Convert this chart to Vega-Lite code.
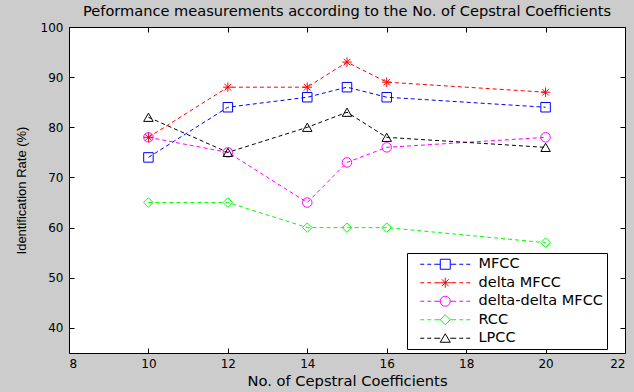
{
  "$schema": "https://vega.github.io/schema/vega-lite/v6.json",
  "width": 556,
  "height": 326,
  "autosize": "none",
  "padding": {"left": 69, "top": 27, "right": 9, "bottom": 39},
  "background": "#cccccc",
  "title": {"text": "Peformance measurements according to the No. of Cepstral Coefficients", "font": "DejaVu Sans", "fontSize": 14.6, "fontWeight": "normal", "color": "black", "anchor": "middle", "baseline": "alphabetic", "offset": -10},
  "config": {
    "view": {"stroke": "black", "strokeWidth": 1, "fill": "white"},
    "axis": {"grid": false, "domain": false, "tickColor": "black", "tickWidth": 1, "labelColor": "black", "titleColor": "black", "labelFont": "DejaVu Sans", "labelFontSize": 12, "titleFont": "DejaVu Sans", "titleFontSize": 14.7, "titleFontWeight": "normal"}
  },
  "data": {"values": [
    {"x": 10, "y": 74, "series": "MFCC"},
    {"x": 12, "y": 84, "series": "MFCC"},
    {"x": 14, "y": 86, "series": "MFCC"},
    {"x": 15, "y": 88, "series": "MFCC"},
    {"x": 16, "y": 86, "series": "MFCC"},
    {"x": 20, "y": 84, "series": "MFCC"},
    {"x": 10, "y": 78, "series": "delta MFCC"},
    {"x": 12, "y": 88, "series": "delta MFCC"},
    {"x": 14, "y": 88, "series": "delta MFCC"},
    {"x": 15, "y": 93, "series": "delta MFCC"},
    {"x": 16, "y": 89, "series": "delta MFCC"},
    {"x": 20, "y": 87, "series": "delta MFCC"},
    {"x": 10, "y": 78, "series": "delta-delta MFCC"},
    {"x": 12, "y": 75, "series": "delta-delta MFCC"},
    {"x": 14, "y": 65, "series": "delta-delta MFCC"},
    {"x": 15, "y": 73, "series": "delta-delta MFCC"},
    {"x": 16, "y": 76, "series": "delta-delta MFCC"},
    {"x": 20, "y": 78, "series": "delta-delta MFCC"},
    {"x": 10, "y": 65, "series": "RCC"},
    {"x": 12, "y": 65, "series": "RCC"},
    {"x": 14, "y": 60, "series": "RCC"},
    {"x": 15, "y": 60, "series": "RCC"},
    {"x": 16, "y": 60, "series": "RCC"},
    {"x": 20, "y": 57, "series": "RCC"},
    {"x": 10, "y": 82, "series": "LPCC"},
    {"x": 12, "y": 75, "series": "LPCC"},
    {"x": 14, "y": 80, "series": "LPCC"},
    {"x": 15, "y": 83, "series": "LPCC"},
    {"x": 16, "y": 78, "series": "LPCC"},
    {"x": 20, "y": 76, "series": "LPCC"}
  ]},
  "resolve": {"axis": {"x": "independent", "y": "independent"}, "scale": {"shape": "independent", "color": "independent"}},
  "layer": [
    {
      "mark": {"type": "line", "strokeDash": [4, 3], "strokeWidth": 1},
      "encoding": {
        "x": {"field": "x", "type": "quantitative", "scale": {"domain": [8, 22], "nice": false, "zero": false},
              "axis": {"orient": "bottom", "values": [8, 10, 12, 14, 16, 18, 20, 22], "tickSize": -5, "labelPadding": 10, "title": "No. of Cepstral Coefficients", "titlePadding": 4}},
        "y": {"field": "y", "type": "quantitative", "scale": {"domain": [35, 100], "nice": false, "zero": false},
              "axis": {"orient": "left", "values": [40, 50, 60, 70, 80, 90, 100], "tickSize": -5, "labelPadding": 11, "title": "Identification Rate (%)", "titleFont": "Liberation Sans", "titleFontSize": 13, "titlePadding": 12}},
        "color": {"field": "series", "type": "nominal",
                  "scale": {"domain": ["MFCC", "delta MFCC", "delta-delta MFCC", "RCC", "LPCC"], "range": ["#0000ff", "#ff0000", "#ff00ff", "#00ff00", "#000000"]},
                  "legend": null}
      }
    },
    {
      "mark": {"type": "point", "filled": false, "strokeWidth": 1, "size": 90, "opacity": 1},
      "encoding": {
        "x": {"field": "x", "type": "quantitative", "axis": {"orient": "top", "values": [8, 10, 12, 14, 16, 18, 20, 22], "tickSize": -5, "labels": false, "title": null}},
        "y": {"field": "y", "type": "quantitative", "axis": {"orient": "right", "values": [40, 50, 60, 70, 80, 90, 100], "tickSize": -5, "labels": false, "title": null}},
        "color": {"field": "series", "type": "nominal",
                  "scale": {"domain": ["MFCC", "delta MFCC", "delta-delta MFCC", "RCC", "LPCC"], "range": ["#0000ff", "#ff0000", "#ff00ff", "#00ff00", "#000000"]},
                  "legend": null},
        "shape": {"field": "series", "type": "nominal",
                  "scale": {"domain": ["MFCC", "delta MFCC", "delta-delta MFCC", "RCC", "LPCC"], "range": ["square", "M-1,0H1M0,-1V1M-0.7,-0.7L0.7,0.7M-0.7,0.7L0.7,-0.7", "circle", "diamond", "triangle-up"]},
                  "legend": null}
      }
    },
    {
      "mark": {"type": "point", "filled": false, "strokeWidth": 1, "size": 100, "opacity": 0},
      "encoding": {
        "x": {"field": "x", "type": "quantitative", "axis": null},
        "y": {"field": "y", "type": "quantitative", "axis": null},
        "color": {"field": "series", "type": "nominal",
                  "scale": {"domain": ["MFCC", "delta MFCC", "delta-delta MFCC", "RCC", "LPCC"], "range": ["#0000ff", "#ff0000", "#ff00ff", "#00ff00", "#000000"]},
                  "legend": {"orient": "none", "legendX": 338, "legendY": 226, "title": null, "fillColor": "white", "strokeColor": "black", "padding": 4, "symbolSize": 100, "symbolOffset": 27, "labelOffset": 26, "labelFont": "DejaVu Sans", "labelFontSize": 14.5, "labelColor": "black", "rowPadding": 2.5, "symbolStrokeWidth": 1, "symbolOpacity": 1}},
        "shape": {"field": "series", "type": "nominal",
                  "scale": {"domain": ["MFCC", "delta MFCC", "delta-delta MFCC", "RCC", "LPCC"], "range": [
                    "M-5,0H-4.2M-3.6,0H-2.8M-2.2,0H-1M1,0H2.2M2.8,0H3.6M4.2,0H5M-1,-1H1V1H-1Z",
                    "M-5,0H-4.2M-3.6,0H-2.8M-2.2,0H-1M1,0H2.2M2.8,0H3.6M4.2,0H5M-1,0H1M0,-1V1M-0.7,-0.7L0.7,0.7M-0.7,0.7L0.7,-0.7",
                    "M-5,0H-4.2M-3.6,0H-2.8M-2.2,0H-1M1,0H2.2M2.8,0H3.6M4.2,0H5M1,0A1,1,0,1,1,-1,0A1,1,0,1,1,1,0Z",
                    "M-5,0H-4.2M-3.6,0H-2.8M-2.2,0H-1M1,0H2.2M2.8,0H3.6M4.2,0H5M0,-1L1,0L0,1L-1,0Z",
                    "M-5,0H-4.2M-3.6,0H-2.8M-2.2,0H-1M1,0H2.2M2.8,0H3.6M4.2,0H5M0,-0.9L1,0.8H-1Z"]},
                  "legend": {"orient": "none", "legendX": 338, "legendY": 226, "title": null, "fillColor": "white", "strokeColor": "black", "padding": 4, "symbolSize": 100, "symbolOffset": 27, "labelOffset": 26, "labelFont": "DejaVu Sans", "labelFontSize": 14.5, "labelColor": "black", "rowPadding": 2.5, "symbolStrokeWidth": 1, "symbolOpacity": 1}}
      }
    }
  ]
}
